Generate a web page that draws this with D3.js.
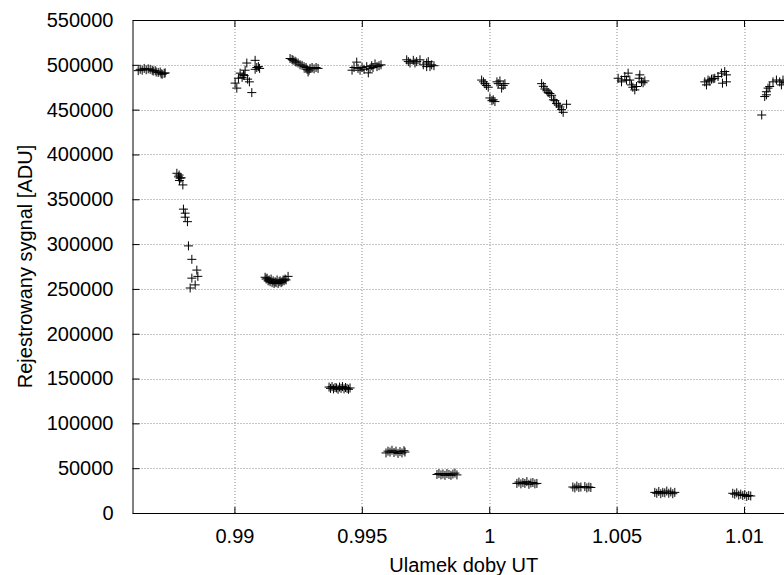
<!DOCTYPE html>
<html>
<head>
<meta charset="utf-8">
<script src="https://cdn.jsdelivr.net/npm/d3@7"></script>
<style>
  body { margin: 0; background: #fff; }
  text { font-family: "Liberation Sans", Arial, sans-serif; }
</style>
</head>
<body>
<svg></svg>
<script>
// pomiary: [ulamek doby UT, sygnal ADU]
var grp1 = [[0.986224,493500],[0.986302,495000],[0.98638,494000],[0.986459,496000],[0.986537,494500],
  [0.986616,495500],[0.986694,495000],[0.986773,494000],[0.986812,493000],[0.98689,493500],
  [0.98693,492000],[0.987008,491500],[0.987086,492000],[0.987125,490000],[0.987165,489500],
  [0.987243,490500],[0.987282,491000]];
var grp2 = [[0.987741,379000],[0.987804,375000],[0.987831,377000],[0.987871,373500],[0.987843,371000],
  [0.98791,374000],[0.987976,366000],[0.988,339000],[0.988067,334500],[0.988067,330000],
  [0.988157,325000],[0.988196,298000],[0.988329,283000],[0.988525,271000],[0.988565,264000],
  [0.988329,262000],[0.988459,254500],[0.988263,251000]];
var grp3 = [[0.990027,479600],[0.990094,474000],[0.990157,485000],[0.990224,490700],[0.990302,486000],
  [0.990353,489000],[0.99038,488000],[0.99042,494000],[0.990486,502000],[0.990518,484000],
  [0.990588,481000],[0.990682,469000],[0.990812,505000],[0.990878,497000],[0.990812,495000],
  [0.990941,498000],[0.990988,496000]];
var grp4 = [[0.991204,263000],[0.991243,261000],[0.991282,262000],[0.991322,259000],[0.991361,260000],
  [0.9914,258000],[0.991439,261000],[0.991478,257000],[0.991518,259000],[0.991557,256000],
  [0.991596,258000],[0.991635,257000],[0.991675,260000],[0.991714,256000],[0.991753,258000],
  [0.991792,259000],[0.991831,257000],[0.991871,258000],[0.99191,260000],[0.991949,259000],
  [0.991988,261000],[0.992027,260000],[0.992106,264000]];
var grp5 = [[0.992184,507000],[0.992263,506000],[0.992302,505000],[0.99238,504000],[0.99242,503000],
  [0.992498,502000],[0.992576,500000],[0.992655,499500],[0.992733,498000],[0.992812,497000],
  [0.992851,495000],[0.99289,492000],[0.99293,494000],[0.992969,496000],[0.993047,497000],
  [0.993126,495500],[0.993204,497000],[0.993282,496000]];
var grp6 = [[0.993714,140500],[0.993773,139000],[0.993831,141000],[0.99389,138500],[0.993949,140000],
  [0.994008,139500],[0.994067,138000],[0.994125,140500],[0.994184,139000],[0.994243,141000],
  [0.994302,138500],[0.994361,140000],[0.99442,139000],[0.994478,138000],[0.994537,139500]];
var grp7 = [[0.994616,494000],[0.994694,497000],[0.9948,503000],[0.994851,496000],[0.99493,494000],
  [0.995008,497000],[0.995086,495000],[0.995192,498000],[0.995255,491000],[0.995322,496000],
  [0.995388,499000],[0.995439,497000],[0.995518,501000],[0.995596,498000],[0.995675,499000],
  [0.995753,500000]];
var grp8 = [[0.995949,67000],[0.996027,69000],[0.996106,68000],[0.996184,70000],[0.996263,67500],
  [0.996341,69000],[0.99642,66500],[0.996498,68500],[0.996576,67000],[0.996655,69500],[0.996694,68000]];
var grp9 = [[0.996761,505600],[0.996824,503600],[0.99689,502000],[0.99702,505000],[0.997086,502000],
  [0.997153,503600],[0.997282,505600],[0.997412,500000],[0.997545,498000],[0.997545,502000],
  [0.997608,503600],[0.997675,498000],[0.997741,500000],[0.997831,499000]];
var grp10 = [[0.997949,43000],[0.998027,44000],[0.998106,42500],[0.998184,43500],[0.998263,42000],
  [0.998341,44000],[0.99842,43000],[0.998498,42000],[0.998576,43500],[0.998655,44500],[0.998733,42500]];
var grp11 = [[0.999702,483000],[0.999773,481000],[0.999831,479000],[0.99989,477000],[0.999961,475000],
  [1.000027,463000],[1.000106,460000],[1.000157,461000],[1.000224,459000],[1.000302,481000],
  [1.000353,479000],[1.00042,482000],[1.000486,474000],[1.000549,477000],[1.000616,479000]];
var grp12 = [[1.001086,33000],[1.001165,34500],[1.001243,32500],[1.001322,34000],[1.0014,33000],
  [1.001478,35000],[1.001557,32000],[1.001635,33500],[1.001714,34000],[1.001792,32500],[1.001871,33000]];
var grp13 = [[1.002055,479000],[1.002125,476000],[1.002184,473000],[1.002263,471000],[1.002314,469000],
  [1.00238,468000],[1.002447,466000],[1.002518,461000],[1.002576,460000],[1.002643,457000],
  [1.002714,455000],[1.002773,453000],[1.002839,450000],[1.002902,447000],[1.003035,456000]];
var grp14 = [[1.003282,29000],[1.003361,28000],[1.003439,30000],[1.003518,28500],[1.003596,29000],
  [1.003753,29500],[1.003831,28000],[1.00391,29000],[1.003988,28500]];
var grp15 = [[1.005059,485000],[1.005192,483000],[1.005192,481000],[1.005322,487000],[1.005388,483000],
  [1.005451,490700],[1.005518,483000],[1.005584,477600],[1.005635,475000],[1.005714,472000],
  [1.00578,475800],[1.005882,485000],[1.00591,488800],[1.005976,481000],[1.006039,480000],[1.006106,482000]];
var grp16 = [[1.006498,23000],[1.006576,22000],[1.006655,24000],[1.006733,21500],[1.006812,23000],
  [1.00689,22500],[1.006969,24500],[1.007047,22000],[1.007125,23500],[1.007204,21500],[1.007282,23000]];
var grp17 = [[1.008459,481000],[1.008525,477600],[1.008588,483000],[1.008655,482000],[1.008722,484000],
  [1.008788,484500],[1.008851,485000],[1.00898,487000],[1.009114,490700],[1.009153,479500],
  [1.009243,492500],[1.00931,488800],[1.00931,481000]];
var grp18 = [[1.009557,22000],[1.009635,21000],[1.009714,22500],[1.009792,20000],[1.009871,21000],
  [1.009949,19500],[1.010027,20500],[1.010106,18500],[1.010184,19500],[1.010263,19000]];
var grp19 = [[1.010694,444000],[1.010812,464600],[1.010878,466500],[1.010878,470000],[1.010941,474000],
  [1.011008,475800],[1.011137,481000],[1.011271,483000],[1.0114,481000],[1.011467,477600],
  [1.011529,483000],[1.011596,480000]];

var xTicks = [0.99, 0.995, 1, 1.005, 1.01];
var xTickLabels = ["0.99", "0.995", "1", "1.005", "1.01"];
var yTicks = [0, 50000, 100000, 150000, 200000, 250000, 300000, 350000, 400000, 450000, 500000, 550000];
var yTickLabels = ["0", "50000", "100000", "150000", "200000", "250000", "300000", "350000",
  "400000", "450000", "500000", "550000"];

var points = [].concat(grp1, grp2, grp3, grp4, grp5, grp6, grp7, grp8, grp9, grp10,
  grp11, grp12, grp13, grp14, grp15, grp16, grp17, grp18, grp19);

var screen = { width: 784, height: 575 };

var margins = { top: 20, bottom: 62, left: 132.5, right: -11 };

var width = screen.width - margins.left - margins.right;
var height = screen.height - margins.top - margins.bottom;

var svg = d3.select("svg")
            .attr("width", screen.width)
            .attr("height", screen.height);

var xScale = d3.scaleLinear()
               .domain([0.986, 1.012])
               .range([0, width]);
var yScale = d3.scaleLinear()
               .domain([0, 550000])
               .range([height, 0]);

var plot = svg.append("g")
              .attr("transform", "translate(" + margins.left + "," + margins.top + ")");

// siatka
plot.append("g")
    .selectAll("line")
    .data(yTicks.slice(1, -1))
    .enter()
    .append("line")
    .attr("x1", 0)
    .attr("x2", width)
    .attr("y1", function(d) { return Math.round(yScale(d)) + 0.5; })
    .attr("y2", function(d) { return Math.round(yScale(d)) + 0.5; })
    .attr("stroke", "#8c8c8c")
    .attr("stroke-dasharray", "1,2");

plot.append("g")
    .selectAll("line")
    .data(xTicks)
    .enter()
    .append("line")
    .attr("y1", 0)
    .attr("y2", height)
    .attr("x1", function(d) { return Math.round(xScale(d)) + 0.5; })
    .attr("x2", function(d) { return Math.round(xScale(d)) + 0.5; })
    .attr("stroke", "#8c8c8c")
    .attr("stroke-dasharray", "1,2");

var yAxis = d3.axisLeft(yScale)
              .tickValues(yTicks)
              .tickFormat(function(d, i) { return yTickLabels[i]; })
              .tickSizeInner(-7)
              .tickSizeOuter(0)
              .tickPadding(19);
var xAxis = d3.axisBottom(xScale)
              .tickValues(xTicks)
              .tickFormat(function(d, i) { return xTickLabels[i]; })
              .tickSizeInner(-6)
              .tickSizeOuter(0)
              .tickPadding(16);
var xTop = d3.axisTop(xScale)
             .tickValues(xTicks)
             .tickFormat("")
             .tickSizeInner(-7)
             .tickSizeOuter(0);

var gy = plot.append("g").call(yAxis);
var gx = plot.append("g")
             .attr("transform", "translate(0," + height + ")")
             .call(xAxis);
var gt = plot.append("g").call(xTop);

[gy, gx, gt].forEach(function(g) {
  g.selectAll("path.domain").attr("stroke", "#000");
  g.selectAll(".tick line").attr("stroke", "#000");
  g.selectAll("text")
   .attr("fill", "#000")
   .style("font-size", "20px")
   .style("font-family", "'Liberation Sans', Arial, sans-serif");
});
gx.selectAll("text").attr("dy", "0.71em");

plot.selectAll("path.pt")
    .data(points)
    .enter()
    .append("path")
    .classed("pt", true)
    .attr("d", "M-4.5,0H4.5M0,-4.5V4.5")
    .attr("transform", function(d) {
      return "translate(" + xScale(d[0]) + "," + yScale(d[1]) + ")";
    })
    .attr("stroke", "#000")
    .attr("stroke-width", 1)
    .attr("fill", "none");

svg.append("text")
   .attr("x", margins.left + width / 2)
   .attr("y", 572)
   .attr("text-anchor", "middle")
   .style("font-size", "20px")
   .text("Ulamek doby UT");

svg.append("text")
   .attr("transform", "translate(32," + (margins.top + height / 2) + ") rotate(-90)")
   .attr("text-anchor", "middle")
   .style("font-size", "20px")
   .text("Rejestrowany sygnal [ADU]");
</script>
</body>
</html>
